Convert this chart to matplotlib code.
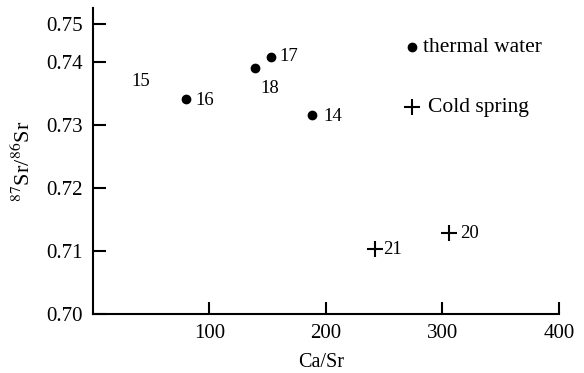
import numpy as np
import matplotlib
matplotlib.use('Agg')
import matplotlib.pyplot as plt

# data
thermal_ids = ['16', '18', '17', '14']
thermal_ca_sr = [80, 139, 153, 188]
thermal_sr = [0.7341, 0.7391, 0.7414, 0.7316]

cold_ids = ['21', '20']
cold_ca_sr = [242, 306]
cold_sr = [0.7104, 0.7128]

# label "15" has no marker in the original
lone_id = '15'
lone_ca_sr = 41
lone_sr = 0.7370

x_ticks = [100, 200, 300, 400]
y_ticks = [0.70, 0.71, 0.72, 0.73, 0.74, 0.75]

plt.rcParams['font.family'] = ['Liberation Serif', 'DejaVu Serif']
plt.rcParams['mathtext.fontset'] = 'stix'


# the original axis is squeezed above 0.74
def fwd(y):
    y = np.asarray(y, dtype=float)
    return np.where(y <= 0.74, y, 0.74 + (y - 0.74) * 0.61)


def inv(t):
    t = np.asarray(t, dtype=float)
    return np.where(t <= 0.74, t, 0.74 + (t - 0.74) / 0.61)


fig = plt.figure(figsize=(5.84, 3.73), dpi=100)
ax = fig.add_axes([0.159, 0.158, 0.798, 0.8206])
ax.set_yscale('function', functions=(fwd, inv))

ax.plot(thermal_ca_sr, thermal_sr, 'o', color='black', markersize=6, linestyle='none')
ax.plot(cold_ca_sr, cold_sr, '+', color='black', markersize=11, mew=1.5, linestyle='none')

# point labels (offsets in points)
offsets = {'16': (7, -1), '18': (11, -15), '17': (6, 0), '14': (8, -1), '21': (6, -1), '20': (8, 0)}
for name, x, y in zip(thermal_ids + cold_ids, thermal_ca_sr + cold_ca_sr, thermal_sr + cold_sr):
    dx, dy = offsets[name]
    ha = 'center' if name == '18' else 'left'
    ax.annotate(name, (x, y), xytext=(dx, dy), textcoords='offset points',
                ha=ha, va='center', fontsize=13.5)
ax.text(lone_ca_sr, lone_sr, lone_id, ha='center', va='center', fontsize=13.5)

ax.set_xlim(0, 400)
ax.set_ylim(0.70, 0.7541)
ax.set_xticks(x_ticks)
ax.set_yticks(y_ticks)
ax.set_yticklabels([f'{v:.2f}' for v in y_ticks])
ax.tick_params(direction='in', length=9, width=1.5, labelsize=15, pad=7)

for side in ['top', 'right']:
    ax.spines[side].set_visible(False)
for side in ['left', 'bottom']:
    ax.spines[side].set_linewidth(1.5)

ax.set_xlabel('Ca/Sr', fontsize=14.5)
ax.xaxis.set_label_coords(0.49, -0.127)
ax.set_ylabel(r'$^{87}$Sr/$^{86}$Sr', fontsize=16)
ax.yaxis.set_label_coords(-0.125, 0.5)

# key, drawn in the upper right like the original
ax.plot([0.6845], [0.8725], 'o', color='black', markersize=6,
        transform=ax.transAxes, clip_on=False)
ax.text(0.708, 0.8725, 'thermal water', transform=ax.transAxes,
        ha='left', va='center', fontsize=15.5)
ax.plot([0.6845], [0.6765], '+', color='black', markersize=11, mew=1.5,
        transform=ax.transAxes, clip_on=False)
ax.text(0.719, 0.6765, 'Cold spring', transform=ax.transAxes,
        ha='left', va='center', fontsize=15.5)

fig.savefig('out.png', dpi=100)
